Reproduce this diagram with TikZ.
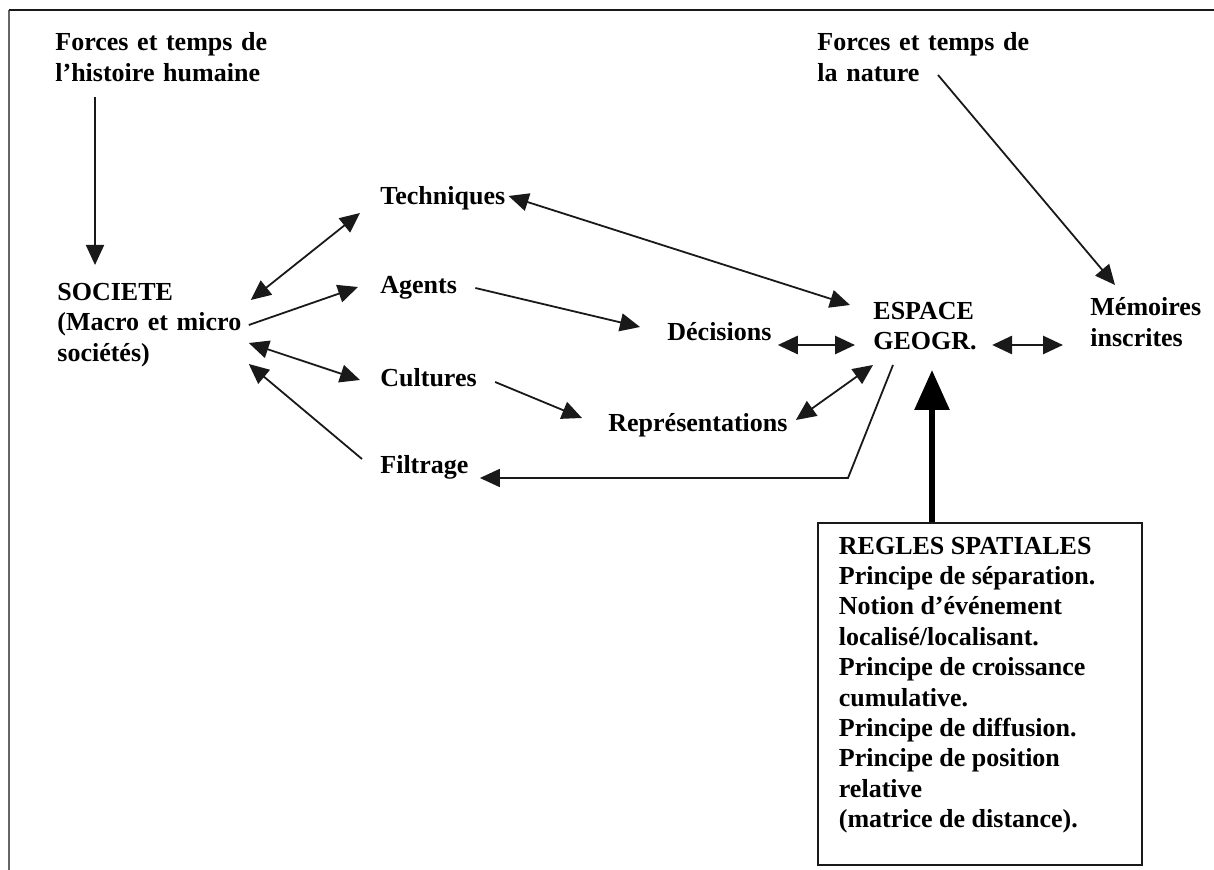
\documentclass[tikz,border=0pt]{standalone}
\usepackage{fontspec}
\setmainfont{Liberation Serif}
\usetikzlibrary{positioning, arrows.meta, calc}
\colorlet{drawColor}{black!90}
\colorlet{frameColor}{black!60}
\tikzstyle{fText}=[inner sep=0pt, anchor=west, align=left, font=\bfseries\fontsize{13}{15.2}\selectfont]
\tikzstyle{fRules}=[rectangle, draw=drawColor, line width=0.9pt, anchor=north west,
inner xsep=10.5pt, inner ysep=7pt, font=\bfseries\fontsize{13}{15.2}\selectfont]
\tikzstyle{arrow}=[->, line width=0.9pt, >={Triangle[length=10pt, width=9pt]}, draw=drawColor]
\tikzstyle{fatArrow}=[->, line width=3pt, >={Triangle[length=20pt, width=17pt]}, draw=black]

\begin{document}
\begin{tikzpicture}[x=0.5pt, y=-0.5pt]
    \useasboundingbox (0,0) rectangle (1214,870);
    % frame
    \draw[frameColor, line width=1pt] (9,870) -- (9,10);
    \draw[drawColor, line width=1pt] (9,10) -- (1214,10);
    % left side
    \node (histoire) [fText, text width=110pt] at (55,57) {Forces et temps de\\l’histoire humaine};
    \node (societe) [fText, text width=96pt] at (57,325) {SOCIETE\\(Macro et micro\\sociétés)};
    \node (techniques) [fText] at (380,198) {Techniques};
    \node (agents) [fText, below=45pt of techniques.west, anchor=west] {Agents};
    \node (cultures) [fText, below=45pt of agents.west, anchor=west] {Cultures};
    \node (filtrage) [fText, below=44.5pt of cultures.west, anchor=west] {Filtrage};
    % middle
    \node (decisions) [fText] at (667,332) {Décisions};
    \node (representations) [fText] at (608,425) {Représentations};
    % right side
    \node (espace) [fText] at (873,326) {ESPACE\\GEOGR.};
    \node (memoires) [fText] at (1090,322) {Mémoires\\inscrites};
    \node (nature) [fText, text width=110pt] at (817,57) {Forces et temps de\\la nature};
    \node (regles) [fRules] at (817,522) {\parbox[t][157pt][t]{141pt}{REGLES SPATIALES\\
      Principe de séparation.\\
      Notion d’événement\\
      localisé/localisant.\\
      Principe de croissance\\
      cumulative.\\
      Principe de diffusion.\\
      Principe de position\\
      relative\\
      (matrice de distance).}};
    % connectors
    \draw[arrow] ($(histoire.west)+(40,40)$) -- ($(societe.west)+(38,-60)$);
    \draw[arrow, <->] ($(societe.east)+(1,-25)$) -- ($(techniques.west)+(-20,15)$);
    \draw[arrow] ($(societe.east)+(-1,0)$) -- ($(agents.west)+(-22,-1)$);
    \draw[arrow, <->] ($(societe.east)+(-1,18)$) -- ($(cultures.west)+(-20,2)$);
    \draw[arrow] ($(filtrage.west)+(-18,-8)$) -- ($(societe.east)+(-1,39)$);
    \draw[arrow, <->] ($(techniques.east)+(3,-2)$) -- ($(espace.west)+(-23,-21)$);
    \draw[arrow] ($(agents.east)+(18,0)$) -- ($(decisions.west)+(-27,-5)$);
    \draw[arrow] ($(cultures.east)+(18,4)$) -- ($(representations.west)+(-26,-7)$);
    \draw[arrow, <->, line width=1.4pt] ($(decisions.east)+(6,13)$) -- ($(espace.west)+(-18,19)$);
    \draw[arrow, <->] ($(representations.east)+(8,-5)$) -- ($(espace.west)+(0,39)$);
    \draw[arrow] ($(espace.west)+(20,39)$) -- ++(-45,113) -- ($(filtrage.east)+(11,11)$);
    \draw[arrow, <->, line width=1.4pt] ($(espace.east)+(15,19)$) -- ($(memoires.west)+(-27,23)$);
    \draw[arrow] ($(nature.west)+(121,18)$) -- ($(memoires.west)+(25,-37)$);
    \draw[fatArrow] ($(regles.north west)+(115,0)$) -- ($(espace.west)+(59,44)$);
\end{tikzpicture}
\end{document}
